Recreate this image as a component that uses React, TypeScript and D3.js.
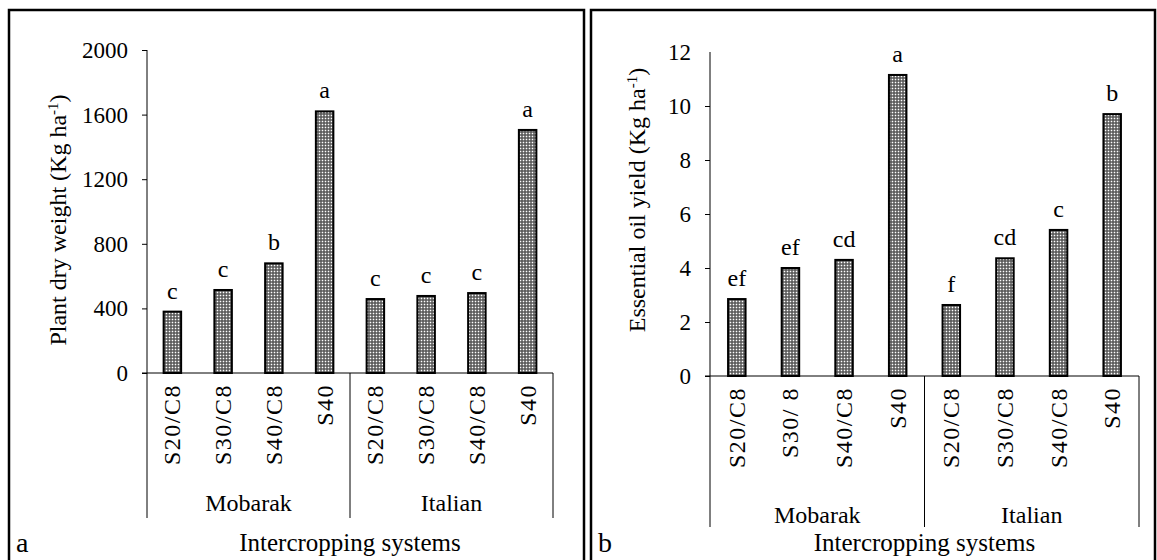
import React, { useEffect, useRef } from 'react';
import * as d3 from 'd3';

// values
const groups = ['Mobarak', 'Italian'];
const categoriesA = ['S20/C8', 'S30/C8', 'S40/C8', 'S40', 'S20/C8', 'S30/C8', 'S40/C8', 'S40'];
const categoriesB = ['S20/C8', 'S30/ 8', 'S40/C8', 'S40', 'S20/C8', 'S30/C8', 'S40/C8', 'S40'];
const dryWeight = [380, 514, 679, 1620, 458, 477, 495, 1505];
const dryWeightLetters = ['c', 'c', 'b', 'a', 'c', 'c', 'c', 'a'];
const oilYield = [2.85, 4.0, 4.3, 11.15, 2.63, 4.36, 5.41, 9.7];
const oilYieldLetters = ['ef', 'ef', 'cd', 'a', 'f', 'cd', 'c', 'b'];
const dryTicks = [0, 400, 800, 1200, 1600, 2000];
const oilTicks = [0, 2, 4, 6, 8, 10, 12];

const FONT = '"Liberation Serif", "Times New Roman", serif';

type Panel = {
  left: number; right: number;
  axisX: number; axisEnd: number; y0: number; yTop: number; boxBottom: number;
  max: number; ticks: number[]; noTopTick: boolean;
  values: number[]; letters: string[]; cats: string[];
  yLabel: string; yLabelX: number; yLabelY: number;
  tag: string; groupY: number;
};

const drawPanel = (svg: any, p: Panel) => {
  const g = svg.append('g');

  // frame
  g.append('path')
    .attr('d', `M${p.left},562 V10 H${p.right} V562`)
    .attr('fill', 'none').attr('stroke', '#000').attr('stroke-width', 2.5);

  const y = d3.scaleLinear().domain([0, p.max]).range([p.y0, p.yTop]);
  const x = d3.scaleBand<number>().domain(d3.range(p.values.length)).range([p.axisX, p.axisEnd]);
  const barW = 17.5;

  // y axis
  const yAxis = d3.axisLeft(y).tickValues(p.noTopTick ? p.ticks.slice(0, -1) : p.ticks)
    .tickSize(5).tickPadding(14).tickFormat(d3.format('d'));
  const ya = g.append('g').attr('transform', `translate(${p.axisX},0)`).call(yAxis);
  ya.select('.domain').remove();
  ya.selectAll('line').attr('stroke', '#000');
  ya.selectAll('text').attr('font-family', FONT).attr('font-size', 23).attr('fill', '#000').attr('dy', '0.33em');
  if (p.noTopTick) {
    g.append('text').attr('x', p.axisX - 19).attr('y', y(p.max)).attr('dy', '0.33em')
      .attr('text-anchor', 'end').attr('font-family', FONT).attr('font-size', 23).text(p.max);
  }
  g.append('line').attr('x1', p.axisX).attr('x2', p.axisX).attr('y1', p.yTop).attr('y2', p.boxBottom)
    .attr('stroke', '#000').attr('stroke-width', 1);

  // bars
  g.selectAll('rect.bar').data(p.values).enter().append('rect')
    .attr('class', 'bar')
    .attr('x', (_d: number, i: number) => x(i)! + x.bandwidth() / 2 - barW / 2)
    .attr('y', (d: number) => y(d))
    .attr('width', barW)
    .attr('height', (d: number) => p.y0 - y(d))
    .attr('fill', 'url(#dots)')
    .attr('stroke', '#000').attr('stroke-width', 2);

  // letters over bars
  g.selectAll('text.sig').data(p.values).enter().append('text')
    .attr('class', 'sig')
    .attr('x', (_d: number, i: number) => x(i)! + x.bandwidth() / 2)
    .attr('y', (d: number) => y(d) - 13)
    .attr('text-anchor', 'middle').attr('font-family', FONT).attr('font-size', 24)
    .text((_d: number, i: number) => p.letters[i]);

  // category axis + group boxes
  g.append('line').attr('x1', p.axisX - 5).attr('x2', p.axisEnd).attr('y1', p.y0).attr('y2', p.y0)
    .attr('stroke', '#000').attr('stroke-width', 1);
  const half = p.axisX + (p.axisEnd - p.axisX) / 2;
  [half, p.axisEnd].forEach(lx => {
    g.append('line').attr('x1', lx).attr('x2', lx).attr('y1', p.y0).attr('y2', p.boxBottom)
      .attr('stroke', '#000').attr('stroke-width', 1);
  });

  g.selectAll('text.cat').data(p.cats).enter().append('text')
    .attr('class', 'cat')
    .attr('transform', (_d: string, i: number) =>
      `translate(${x(i)! + x.bandwidth() / 2 + 8},${p.y0 + 11}) rotate(-90)`)
    .attr('text-anchor', 'end').attr('font-family', FONT).attr('font-size', 24)
    .attr('letter-spacing', 1.5)
    .text((d: string) => d);

  g.selectAll('text.grp').data(groups).enter().append('text')
    .attr('class', 'grp')
    .attr('x', (_d: string, i: number) => p.axisX + (i + 0.5) * (p.axisEnd - p.axisX) / 2)
    .attr('y', p.groupY)
    .attr('text-anchor', 'middle').attr('font-family', FONT).attr('font-size', 24)
    .text((d: string) => d);

  g.append('text').attr('x', half).attr('y', 551).attr('text-anchor', 'middle')
    .attr('font-family', FONT).attr('font-size', 25).text('Intercropping systems');

  g.append('text').attr('x', p.left + 7).attr('y', 552)
    .attr('font-family', FONT).attr('font-size', 28).text(p.tag);

  // y label with superscript
  const yl = g.append('text')
    .attr('transform', `translate(${p.yLabelX},${p.yLabelY}) rotate(-90)`)
    .attr('text-anchor', 'middle').attr('font-family', FONT).attr('font-size', 24);
  yl.append('tspan').text(p.yLabel);
  yl.append('tspan').attr('baseline-shift', 'super').attr('font-size', 15).text('-1');
  yl.append('tspan').text(')');
};

const App = () => {
  const ref = useRef<SVGSVGElement | null>(null);

  useEffect(() => {
    if (!ref.current) return;
    const svg = d3.select(ref.current);
    svg.selectAll('*').remove();

    const defs = svg.append('defs');
    const pat = defs.append('pattern').attr('id', 'dots').attr('patternUnits', 'userSpaceOnUse')
      .attr('width', 3).attr('height', 3);
    pat.append('rect').attr('width', 3).attr('height', 3).attr('fill', '#505050');
    pat.append('rect').attr('x', 0.7).attr('y', 0.7).attr('width', 1.6).attr('height', 1.6).attr('fill', '#fff');

    drawPanel(svg, {
      left: 9, right: 584, axisX: 147, axisEnd: 553, y0: 373, yTop: 50, boxBottom: 518,
      max: 2000, ticks: dryTicks, noTopTick: false,
      values: dryWeight, letters: dryWeightLetters, cats: categoriesA,
      yLabel: 'Plant dry weight (Kg ha', yLabelX: 66, yLabelY: 220,
      tag: 'a', groupY: 511,
    });

    drawPanel(svg, {
      left: 591, right: 1155, axisX: 710, axisEnd: 1139, y0: 376, yTop: 52, boxBottom: 527,
      max: 12, ticks: oilTicks, noTopTick: true,
      values: oilYield, letters: oilYieldLetters, cats: categoriesB,
      yLabel: 'Essential oil yield (Kg ha', yLabelX: 645, yLabelY: 200,
      tag: 'b', groupY: 523,
    });
  }, []);

  return (
    <svg ref={ref} width={1157} height={560}
      style={{ position: 'absolute', left: 0, top: 0, background: '#fff' }} />
  );
};

export default App;
